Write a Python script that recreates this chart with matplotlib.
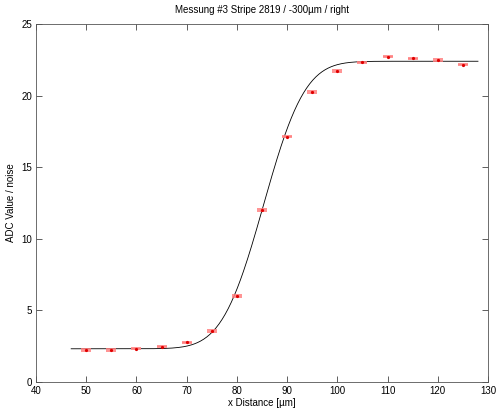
import math

import matplotlib
matplotlib.use('Agg')
import matplotlib.pyplot as plt
import numpy as np

# measured points
x_pos = [50, 55, 60, 65, 70, 75, 80, 85, 90, 95, 100, 105, 110, 115, 120, 125]
adc_noise = [2.25, 2.23, 2.33, 2.46, 2.77, 3.56, 6.0, 12.0, 17.13, 20.25,
             21.72, 22.32, 22.72, 22.6, 22.49, 22.16]
adc_err = [0.05] * len(x_pos)

# error-function fit parameters (plateau low/high, centre, sigma) and range
fit_low = 2.32
fit_high = 22.4
fit_x0 = 85.3
fit_sigma = 6.5
fit_range = (47, 128)


def erf_step(x):
    z = (x - fit_x0) / (math.sqrt(2) * fit_sigma)
    return fit_low + (fit_high - fit_low) * 0.5 * (1 + math.erf(z))


plt.rcParams['font.family'] = ['Liberation Sans', 'DejaVu Sans']
plt.rcParams['font.size'] = 7

fig = plt.figure(figsize=(4.96, 4.12), dpi=100)
ax = fig.add_axes([0.0726, 0.0728, 0.9113, 0.8689])

xs = np.linspace(fit_range[0], fit_range[1], 400)
ax.plot(xs, [erf_step(v) for v in xs], color='black', lw=0.6)
ax.errorbar(x_pos, adc_noise, yerr=adc_err, fmt='o', color='#e00000', ms=1.3,
            ecolor='#ff8080', elinewidth=1.2, capsize=3.5, capthick=1.2, zorder=3)

ax.set_xlim(40, 130)
ax.set_ylim(0, 25)
ax.set_xticks(range(40, 131, 10))
ax.set_yticks(range(0, 26, 5))
ax.tick_params(direction='in', top=True, right=True, length=4, width=0.6,
               color='#444444', labelsize=7, pad=3)
for s in ax.spines.values():
    s.set_linewidth(0.6)
    s.set_color('#555555')

ax.set_xlabel('x Distance [µm]', fontsize=7, labelpad=1)
ax.set_ylabel('ADC Value / noise', fontsize=7, labelpad=4)
ax.set_title('Messung #3 Stripe 2819 / -300µm / right', fontsize=7, pad=8)

fig.savefig('out.png', dpi=100)
plt.close()
